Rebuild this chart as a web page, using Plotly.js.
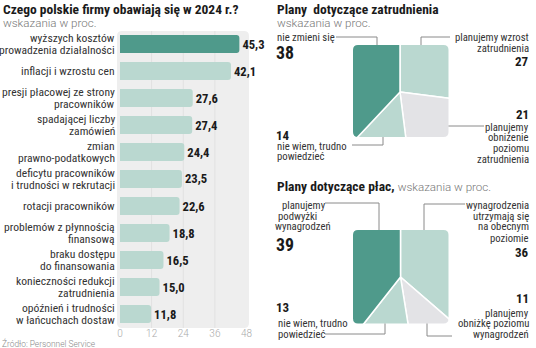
<!DOCTYPE html>
<html><head><meta charset="utf-8">
<script src="https://cdn.plot.ly/plotly-3.0.1.min.js"></script>
<style>html,body{margin:0;padding:0;background:#fff}#c{width:536px;height:348px}</style>
</head><body><div id="c"></div>
<script>
// ---- data ----
const categories = ["wyższych kosztów<br>prowadzenia działalności","inflacji i wzrostu cen","presji płacowej ze strony<br>pracowników","spadającej liczby<br>zamówień","zmian<br>prawno-podatkowych","deficytu pracowników<br>i trudności w rekrutacji","rotacji pracowników","problemów z płynnością<br>finansową","braku dostępu<br>do finansowania","konieczności redukcji<br>zatrudnienia","opóźnień i trudności<br>w łańcuchach dostaw"];
const values = [45.3,42.1,27.6,27.4,24.4,23.5,22.6,18.8,16.5,15.0,11.8];
const xTicks = [0,12,24,36,48];
const gridVals = [12,24,36];

const empLabels = ["planujemy wzrost<br>zatrudnienia","planujemy<br>obniżenie<br>poziomu<br>zatrudnienia","nie wiem, trudno<br>powiedzieć","nie zmieni się"];
const empValues = [27,21,14,38];
const wageLabels = ["wynagrodzenia<br>utrzymają się<br>na obecnym<br>poziomie","planujemy<br>obniżkę poziomu<br>wynagrodzeń","nie wiem, trudno<br>powiedzieć","planujemy<br>podwyżki<br>wynagrodzeń"];
const wageValues = [36,11,13,39];

// ---- styles ----
const W=536,H=348;
const DARK='#4f9a8b', LIGHT='#bad8d0', GRAY='#e3e3e6';
const COND="'Roboto Condensed','Liberation Sans Narrow','DejaVu Sans Condensed',sans-serif";
const LIGHTF="Roboto,'Open Sans',sans-serif";
const px=x=>x/W, py=y=>1-y/H;

// fit font sizes to the widths measured on the reference
const ctx=document.createElement('canvas').getContext('2d');
function fitAvg(pairs,family,weight){
  let s=0;
  pairs.forEach(([t,w])=>{ctx.font=`${weight} 100px ${family}`; s+=100*w/ctx.measureText(t).width;});
  return Math.round(s/pairs.length*10)/10;
}
const catSize=fitAvg([["prowadzenia działalności",114.3],["inflacji i wzrostu cen",93.7],["presji płacowej ze strony",112.7],["problemów z płynnością",111]],COND,'normal');
const labSize=fitAvg([["nie zmieni się",57.3],["planujemy wzrost",73],["nie wiem, trudno",72.3],["wynagrodzenia",61.7],["obniżkę poziomu",72]],COND,'normal');
const titleSize=fitAvg([["Czego polskie firmy obawiają się w 2024 r.?",235.6],["Plany  dotyczące zatrudnienia",162.3],["Plany dotyczące płac,",116]],COND,'bold');
const subSize=fitAvg([["wskazania w proc.",93.5]],LIGHTF,'300');
const valSize=fitAvg([["45,3",22.3],["42,1",22]],COND,'bold');
const numSize=Math.max(13,fitAvg([["27",11.7],["14",10.7]],COND,'bold')*1.08);
const bigSize=fitAvg([["38",16.7],["39",16.7]],COND,'bold')*1.08;
const srcSize=fitAvg([["Źródło: Personnel Service",94]],LIGHTF,'300');

const shapes=[], ann=[];
function rr(L,T,R,B,r){
  return `M${px(L+r)},${py(T)} Q${px(L)},${py(T)} ${px(L)},${py(T+r)} L${px(L)},${py(B-r)} Q${px(L)},${py(B)} ${px(L+r)},${py(B)} L${px(R-r)},${py(B)} Q${px(R)},${py(B)} ${px(R)},${py(B-r)} L${px(R)},${py(T+r)} Q${px(R)},${py(T)} ${px(R-r)},${py(T)} Z`;
}
function note(text,x,y,anchor,font){
  ann.push({text,x:px(x),y:py(y),xref:'paper',yref:'paper',xanchor:anchor,yanchor:'middle',showarrow:false,borderpad:0,font});
}
function lines(text,xs,y0,anchor,step,font){
  text.split('<br>').forEach((t,j)=>note(t,Array.isArray(xs)?xs[j]:xs,y0+j*step,anchor,font));
}
function leader(pts){
  shapes.push({type:'path',xref:'paper',yref:'paper',layer:'above',
    path:pts.map((p,i)=>(i?'L':'M')+px(p[0])+','+py(p[1])).join(' '),
    line:{color:'#8a8a8a',width:1}});
}
const fLab={family:COND,size:labSize,color:'#333'};
const fVal={family:COND,size:numSize,color:'#1a1a1a',weight:'bold'};
const fBig={family:COND,size:bigSize,color:'#1a1a1a',weight:'bold'};
const fTitle={family:COND,size:titleSize,color:'#1a1a1a',weight:'bold'};
const fSub={family:LIGHTF,size:subSize,color:'#777',weight:300};

// bar chart background + grid
shapes.push({type:'path',xref:'paper',yref:'paper',layer:'below',path:rr(117,31,249,328,5),fillcolor:'#eeeeee',line:{width:0}});
gridVals.forEach(g=>shapes.push({type:'line',xref:'x',yref:'paper',layer:'below',x0:g,x1:g,y0:py(328),y1:py(31),line:{color:'#e1e1e1',width:1}}));

// category labels
categories.forEach((c,i)=>{
  const parts=c.split('<br>'), n=parts.length;
  parts.forEach((t,j)=>ann.push({text:t,x:0,y:i,xref:'x',yref:'y',xanchor:'right',yanchor:'middle',xshift:-4,yshift:((n-1)/2-j)*11.5,showarrow:false,borderpad:0,font:{family:COND,size:catSize,color:'#333'}}));
});

// pies (square-clipped)
function pie(vals,labs,colors,cx,cy){
  const R=69;
  return {type:'pie',values:vals,labels:labs,sort:false,direction:'clockwise',rotation:0,
    marker:{colors,line:{color:'#fff',width:1.5}},textinfo:'none',hoverinfo:'skip',showlegend:false,
    domain:{x:[px(cx-R),px(cx+R)],y:[py(cy+R),py(cy-R)]}};
}
function mask(cx,cy,L,T,R,B){
  const M=73;
  const outer=`M${px(cx-M)},${py(cy-M)} L${px(cx+M)},${py(cy-M)} L${px(cx+M)},${py(cy+M)} L${px(cx-M)},${py(cy+M)} Z `;
  shapes.push({type:'path',xref:'paper',yref:'paper',layer:'above',path:outer+rr(L,T,R,B,5),fillcolor:'#ffffff',line:{width:0}});
}
const pie1=pie(empValues,empLabels,[LIGHT,GRAY,LIGHT,DARK],400,92);
const pie2=pie(wageValues,wageLabels,[LIGHT,GRAY,LIGHT,DARK],400.5,277);
mask(400,92,353,45,448.5,137);
mask(400.5,277,353,230,448.5,323.5);

// leader lines
leader([[336,37],[377,37],[377,45]]);
leader([[421,45],[421,37],[450,37]]);
leader([[448.5,126],[484,126]]);
leader([[352,145],[383,145],[383,137]]);
leader([[325,203],[379,203],[379,230]]);
leader([[424,230],[424,204],[465,204]]);
leader([[427,323.5],[427,336],[452,336]]);
leader([[325,334],[385,334],[385,323.5]]);

// pie texts
lines(empLabels[3],276,37,'left',11,fLab); note(String(empValues[3]),275,52,'left',fBig);
lines(empLabels[0],529.5,37,'right',11,fLab); note(String(empValues[0]),530,62,'right',fVal);
lines(empLabels[1],529.5,127,'right',10.7,fLab); note(String(empValues[1]),530,114,'right',fVal);
lines(empLabels[2],276,146,'left',11,fLab); note(String(empValues[2]),275,135,'left',fVal);

lines(wageLabels[3],[281,277,274],205,'left',11,fLab); note(String(wageValues[3]),275,245,'left',fBig);
lines(wageLabels[0],530,205,'right',11,fLab); note(String(wageValues[0]),530,252,'right',fVal);
lines(wageLabels[1],529.5,313,'right',10.5,fLab); note(String(wageValues[1]),530,298,'right',fVal);
lines(wageLabels[2],277,323.5,'left',10.5,fLab); note(String(wageValues[2]),275,307,'left',fVal);

// titles
note('Czego polskie firmy obawiają się w 2024 r.?',1.5,9,'left',fTitle);
note('wskazania w proc.',1.5,22.5,'left',fSub);
note('Plany  dotyczące zatrudnienia',276,9,'left',fTitle);
note('wskazania w proc.',276,22.5,'left',fSub);
note(`Plany dotyczące płac, <span style="font-family:Roboto,'Open Sans',sans-serif;font-weight:300;color:#777;font-size:${subSize}px">wskazania w proc.</span>`,276,186,'left',fTitle);
note('Źródło: Personnel Service',1,343,'left',{family:LIGHTF,size:srcSize,color:'#888',weight:300});

const bars={type:'bar',orientation:'h',x:values,y:categories.map((c,i)=>i),
  marker:{color:values.map((v,i)=>i===0?DARK:LIGHT),cornerradius:3},
  texttemplate:'%{x:.1f}',textposition:'outside',cliponaxis:false,constraintext:'none',
  textfont:{family:COND,size:valSize,color:'#1a1a1a',weight:'bold'},hoverinfo:'skip',showlegend:false};

const layout={width:W,height:H,margin:{l:0,r:0,t:0,b:0},paper_bgcolor:'#fff',plot_bgcolor:'rgba(0,0,0,0)',
  separators:', ',bargap:0.33,showlegend:false,
  xaxis:{domain:[px(120),px(246.5)],range:[0,48],tickvals:xTicks,showgrid:false,zeroline:false,showline:false,ticks:'',
    ticklabelstandoff:-2,tickfont:{family:LIGHTF,size:10,color:'#aaa',weight:300},fixedrange:true},
  yaxis:{domain:[py(327.5),py(30.5)],range:[10.5,-0.5],showticklabels:false,showgrid:false,zeroline:false,fixedrange:true},
  shapes,annotations:ann};
Plotly.newPlot('c',[bars,pie1,pie2],layout,{staticPlot:true});
</script></body></html>
